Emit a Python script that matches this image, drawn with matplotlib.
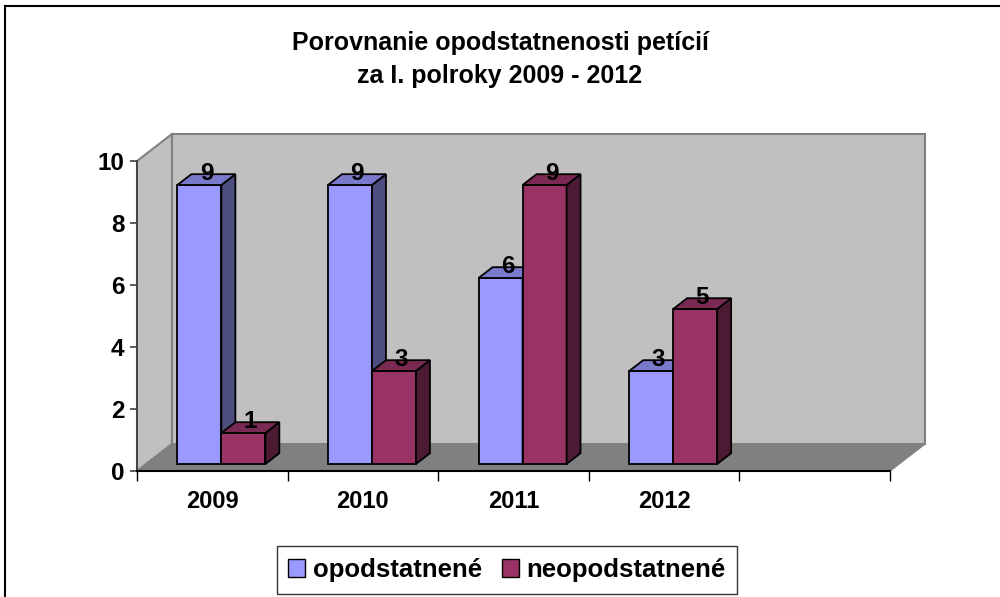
import matplotlib
matplotlib.use('Agg')
import matplotlib.pyplot as plt
from matplotlib.patches import Polygon, Patch
from matplotlib.lines import Line2D

# data
years = ['2009', '2010', '2011', '2012']
opodstatnene = [9, 9, 6, 3]
neopodstatnene = [1, 3, 9, 5]
series_names = ['opodstatnené', 'neopodstatnené']
title = 'Porovnanie opodstatnenosti petícií\nza I. polroky 2009 - 2012'

# colours (front, top, side)
blue = ('#9999FF', '#7A7ACC', '#4D4D80')
red = ('#993366', '#7A2952', '#4D1A33')

plt.rcParams['font.family'] = ['Liberation Sans', 'DejaVu Sans']
plt.rcParams['font.weight'] = 'bold'
FS = 17

fig = plt.figure(figsize=(10, 5.97), dpi=100)
ax = fig.add_axes([0.137, 126 / 597, 0.753, 310 / 597])
ncat = 5
ax.set_xlim(0, ncat)
ax.set_ylim(0, 10)

# fake 3d: depth offset of the whole box, in data units
dx, dy = 0.232, 0.87
z0, z1 = 0.26, 0.66   # bar depth (fraction of box depth)
bw = 0.292


def proj(x, y, z):
    return (x + z * dx, y + z * dy)


# walls and floor
back = Polygon([proj(0, 0, 1), proj(ncat, 0, 1), proj(ncat, 10, 1), proj(0, 10, 1)],
               closed=True, fc='#C0C0C0', ec='#808080', lw=1.5, zorder=0, clip_on=False)
side = Polygon([proj(0, 0, 0), proj(0, 0, 1), proj(0, 10, 1), proj(0, 10, 0)],
               closed=True, fc='#C0C0C0', ec='#808080', lw=1.5, zorder=0, clip_on=False)
floor = Polygon([proj(0, 0, 0), proj(ncat, 0, 0), proj(ncat, 0, 1), proj(0, 0, 1)],
                closed=True, fc='#808080', ec='#808080', lw=1, zorder=1, clip_on=False)
for p in (back, side, floor):
    ax.add_patch(p)


def bar3d(xl, v, cols, zo):
    xr = xl + bw
    fx, fy = proj(xl, 0, z0)
    ax.bar(fx, v, width=bw, bottom=fy, align='edge', color=cols[0],
           edgecolor='black', lw=1.3, zorder=zo, clip_on=False)
    sidef = Polygon([proj(xr, 0, z0), proj(xr, 0, z1), proj(xr, v, z1), proj(xr, v, z0)],
                    closed=True, fc=cols[2], ec='black', lw=1.3, zorder=zo, clip_on=False)
    topf = Polygon([proj(xl, v, z0), proj(xr, v, z0), proj(xr, v, z1), proj(xl, v, z1)],
                   closed=True, fc=cols[1], ec='black', lw=1.3, zorder=zo, clip_on=False)
    ax.add_patch(sidef)
    ax.add_patch(topf)
    tx, ty = proj(xl + bw / 2, v, (z0 + z1) / 2)
    ax.text(tx, v + z0 * dy, str(v), ha='center', va='bottom', fontsize=FS + 0.5,
            fontweight='bold', zorder=50)


zo = 2
for i in range(len(years)):
    c = i + 0.5
    bar3d(c - bw, opodstatnene[i], blue, zo)
    bar3d(c, neopodstatnene[i], red, zo + 1)
    zo += 2

# axes
for s in ('top', 'right'):
    ax.spines[s].set_visible(False)
ax.spines['left'].set_color('#404040')
ax.spines['left'].set_linewidth(1.3)
ax.spines['bottom'].set_color('black')
ax.spines['bottom'].set_linewidth(1.5)
ax.spines['left'].set_zorder(40)
ax.spines['bottom'].set_zorder(40)

ax.set_yticks(range(0, 11, 2))
ax.tick_params(axis='y', direction='out', length=5, width=1.2, color='#404040',
               labelsize=FS + 0.5, pad=4)
ax.set_xticks(range(ncat + 1))
ax.set_xticklabels([])
ax.tick_params(axis='x', which='major', direction='out', length=7, width=1, color='black')
ax.set_xticks([i + 0.5 for i in range(len(years))], minor=True)
ax.set_xticklabels(years, minor=True)
ax.tick_params(axis='x', which='minor', length=0, labelsize=FS, pad=14)
for lab in ax.get_xticklabels(minor=True) + ax.get_yticklabels():
    lab.set_fontweight('bold')

fig.text(0.5, 1 - 31 / 597, title, ha='center', va='top', fontsize=18,
         fontweight='bold', linespacing=1.5)

handles = [Patch(fc=blue[0], ec='black', lw=1), Patch(fc=red[0], ec='black', lw=1)]
leg = fig.legend(handles, series_names, loc='center', bbox_to_anchor=(0.507, 1 - 570 / 597),
                 ncol=2, fontsize=18.5, frameon=True, fancybox=False, edgecolor='black',
                 handlelength=0.65, handleheight=0.65, handletextpad=0.3, columnspacing=0.8,
                 borderpad=0.45)
leg.get_frame().set_linewidth(1)
for t in leg.get_texts():
    t.set_fontweight('bold')

# outer chart border (only top and left visible in the crop)
fig.add_artist(Line2D([5 / 1000, 1], [1 - 6 / 597, 1 - 6 / 597], color='black', lw=1.5,
                      transform=fig.transFigure))
fig.add_artist(Line2D([5 / 1000, 5 / 1000], [0, 1 - 6 / 597], color='black', lw=1.5,
                      transform=fig.transFigure))

fig.savefig('out.png', dpi=100)
